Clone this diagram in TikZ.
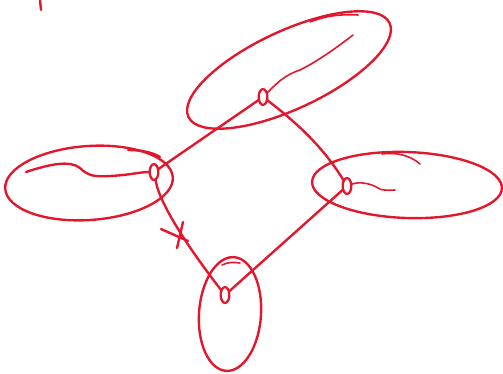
\documentclass[tikz,border=0pt]{standalone}
\usepackage{tikz}

\definecolor{pen}{RGB}{228,22,44}

\begin{document}
\begin{tikzpicture}[x=0.02cm, y=-0.02cm, line cap=round, line join=round,
  ink/.style={draw=pen, line width=1.35pt},
  thin ink/.style={draw=pen, line width=0.9pt},
  vtx/.style={draw=pen, line width=1.3pt, circle, inner sep=0pt, minimum size=9pt, xscale=0.55, rotate=-20}]
  \useasboundingbox (0,0) rectangle (503,373);

  % vertices
  \node[vtx] (t) at (263,97)  {};
  \node[vtx] (l) at (154,172) {};
  \node[vtx] (r) at (347,186) {};
  \node[vtx] (b) at (225,295) {};

  % clusters
  \draw[ink, rotate around={25:(289,70)}] (289,70) ellipse [x radius=2.22cm, y radius=0.78cm];
  \draw[ink, rotate around={4:(89,183)}] (89,183) ellipse [x radius=1.68cm, y radius=0.74cm];
  \draw[ink, rotate around={-2:(407,185)}] (407,185) ellipse [x radius=1.9cm, y radius=0.66cm];
  \draw[ink, rotate around={-4:(230,314)}] (230,314) ellipse [x radius=0.62cm, y radius=1.14cm];

  % edges
  \draw[ink] (l) -- (t);
  \draw[ink] (t) .. controls (300,125) and (325,150) .. (r);
  \draw[ink] (r) -- (b);
  \draw[ink] (l) .. controls (160,205) and (190,250) .. (b);
  \draw[ink] (161,229) -- (188,241);
  \draw[ink] (183,222) -- (177,248);

  % scribbles
  \draw[ink] (26,172) .. controls (50,164) and (70,160) .. (80,168)
    .. controls (88,176) and (95,177) .. (110,176) .. controls (130,175) and (140,172) .. (l);
  \draw[ink] (128,150) .. controls (140,150) and (152,152) .. (160,157);
  \draw[thin ink] (t) .. controls (278,82) and (285,75) .. (300,70)
    .. controls (320,60) and (340,45) .. (353,35);
  \draw[thin ink] (310,22) .. controls (325,16) and (340,14) .. (358,15);
  \draw[thin ink] (r) .. controls (360,181) and (372,184) .. (378,188)
    .. controls (382,191) and (388,190) .. (395,190);
  \draw[thin ink] (382,154) .. controls (395,152) and (410,155) .. (420,164);
  \draw[thin ink] (222,265) .. controls (228,262) and (234,262) .. (240,263);
  \draw[ink] (40,0) -- (41,10);
\end{tikzpicture}
\end{document}
